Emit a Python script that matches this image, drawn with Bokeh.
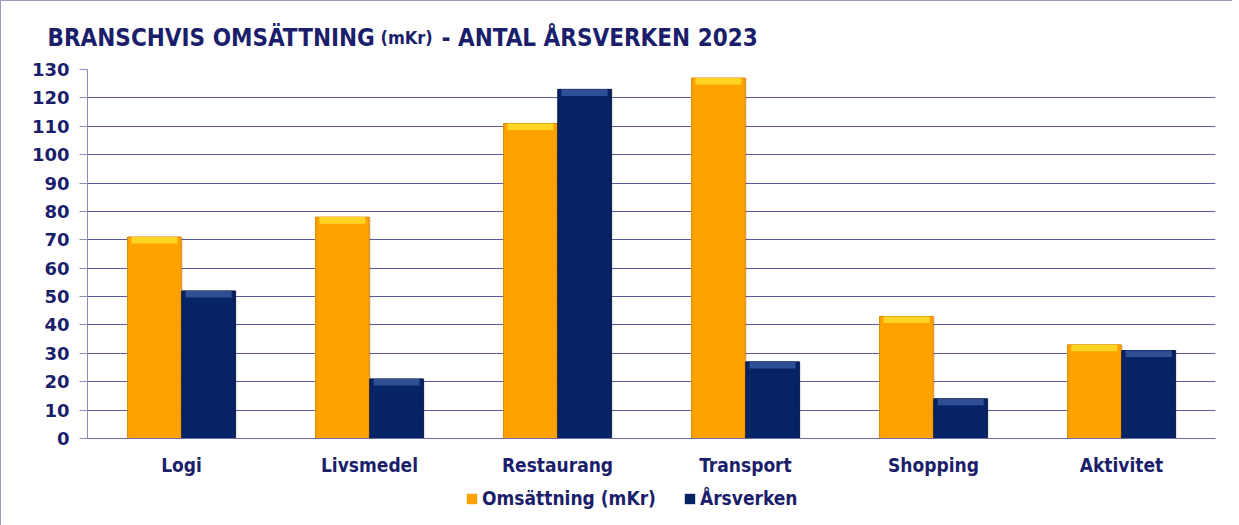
from bokeh.plotting import figure
from bokeh.layouts import column
from bokeh.models import FactorRange, Legend, LegendItem, ColumnDataSource
from bokeh.transform import dodge
from bokeh.embed import file_html
from bokeh.resources import INLINE
from bokeh.core.properties import value

categories = ["Logi", "Livsmedel", "Restaurang", "Transport", "Shopping", "Aktivitet"]
omsattning = [71, 78, 111, 127, 43, 33]
arsverken = [52, 21, 123, 27, 14, 31]
series_names = ["Omsättning (mKr)", "Årsverken"]
title_parts = ["BRANSCHVIS OMSÄTTNING", "(mKr)", "- ANTAL ÅRSVERKEN 2023"]
y_ticks = list(range(0, 131, 10))

FONT = "DejaVu Sans Condensed"
NAVY_TXT = "#1b1f6b"
ORANGE = "#FFA200"
ORANGE_HL = "#FFD422"
ORANGE_EDGE = "#D98600"
NAVY = "#062465"
NAVY_HL = "#2F4F95"
NAVY_EDGE = "#031540"

TOTAL_W = 1231
TITLE_H = 56
LEG_H = 44

# ---- title strip (separate figure so the text is not clipped by the chart frame) ----
t = figure(width=TOTAL_W, height=TITLE_H, x_range=(0, TOTAL_W), y_range=(TITLE_H, 0),
           min_border=0, x_axis_location=None, y_axis_location=None,
           output_backend="svg", toolbar_location=None)
t.grid.visible = False
t.outline_line_color = None
t.text(x=[46], y=[36], text=[title_parts[0]], text_font=value(FONT), text_font_style="bold",
       text_font_size="24px", text_color=NAVY_TXT, text_baseline="alphabetic")
t.text(x=[379], y=[36], text=[title_parts[1]], text_font=value(FONT), text_font_style="bold",
       text_font_size="18px", text_color=NAVY_TXT, text_baseline="alphabetic")
t.text(x=[440], y=[36], text=[title_parts[2]], text_font=value(FONT), text_font_style="bold",
       text_font_size="24px", text_color=NAVY_TXT, text_baseline="alphabetic")

# ---- main chart ----
hl = 2.3  # highlight band height in data units
src = ColumnDataSource(dict(
    cat=categories,
    oms=omsattning,
    ars=arsverken,
    oms_hl=[v - hl for v in omsattning],
    ars_hl=[v - hl for v in arsverken],
))

p = figure(
    x_range=FactorRange(*categories, range_padding=0),
    y_range=(0, 130),
    frame_width=1128, frame_height=369,
    min_border_left=86, min_border_right=17, min_border_top=12, min_border_bottom=44,
    output_backend="svg", toolbar_location=None,
    background_fill_color="white", border_fill_color="white",
)
p.outline_line_color = None

off = 0.144
w = 0.285
# soft shadows
p.vbar(x=dodge("cat", -off + 0.004, range=p.x_range), top="oms", width=w + 0.012, source=src,
       fill_color="#000000", fill_alpha=0.10, line_color=None)
p.vbar(x=dodge("cat", off + 0.004, range=p.x_range), top="ars", width=w + 0.012, source=src,
       fill_color="#000000", fill_alpha=0.10, line_color=None)

p.vbar(x=dodge("cat", -off, range=p.x_range), top="oms", width=w, source=src,
       fill_color=ORANGE, line_color=ORANGE_EDGE, line_width=1)
p.vbar(x=dodge("cat", off, range=p.x_range), top="ars", width=w, source=src,
       fill_color=NAVY, line_color=NAVY_EDGE, line_width=1)
p.vbar(x=dodge("cat", -off, range=p.x_range), top="oms", bottom="oms_hl", width=w * 0.86, source=src,
       fill_color=ORANGE_HL, line_color=None)
p.vbar(x=dodge("cat", off, range=p.x_range), top="ars", bottom="ars_hl", width=w * 0.86, source=src,
       fill_color=NAVY_HL, line_color=None)

# axes
p.yaxis.ticker = y_ticks
p.ygrid.ticker = y_ticks
p.ygrid.grid_line_color = "#3a3f8f"
p.ygrid.grid_line_alpha = 0.85
p.xgrid.grid_line_color = None

p.yaxis.axis_line_color = "#8a8ab8"
p.yaxis.major_tick_line_color = "#8a8ab8"
p.yaxis.major_tick_out = 8
p.yaxis.major_tick_in = 0
p.yaxis.minor_tick_line_color = None
p.yaxis.major_label_standoff = 10
p.yaxis.major_label_text_font = "DejaVu Sans"
p.yaxis.major_label_text_font_style = "bold"
p.yaxis.major_label_text_font_size = "18px"
p.yaxis.major_label_text_color = NAVY_TXT

p.xaxis.axis_line_color = "#6a6aa8"
p.xaxis.major_tick_line_color = None
p.xaxis.major_tick_out = 0
p.xaxis.major_label_standoff = 15
p.xaxis.major_label_text_font = FONT
p.xaxis.major_label_text_font_style = "bold"
p.xaxis.major_label_text_font_size = "19px"
p.xaxis.major_label_text_color = NAVY_TXT

# ---- legend strip ----
b = figure(width=TOTAL_W, height=LEG_H, x_range=FactorRange(*categories), y_range=(0, 1),
           min_border=0, x_axis_location=None, y_axis_location=None,
           output_backend="svg", toolbar_location=None)
b.grid.visible = False
b.outline_line_color = None
# zero-size, borderless bars: they only provide the legend swatches
l_oms = b.vbar(x="cat", top="oms", bottom="oms", width=0, source=src,
               fill_color=ORANGE, line_color=None)
l_ars = b.vbar(x="cat", top="ars", bottom="ars", width=0, source=src,
               fill_color=NAVY, line_color=None)
legend = Legend(items=[LegendItem(label=series_names[0], renderers=[l_oms]),
                       LegendItem(label=series_names[1], renderers=[l_ars])],
                orientation="horizontal", location=(464, 17))
legend.label_text_font = FONT
legend.label_text_font_style = "bold"
legend.label_text_font_size = "19px"
legend.label_text_color = NAVY_TXT
legend.glyph_width = 13
legend.glyph_height = 13
legend.label_standoff = 4
legend.spacing = 27
legend.padding = 0
legend.margin = 0
legend.border_line_color = None
legend.background_fill_alpha = 0
b.add_layout(legend)

layout = column(column(t), p, column(b), spacing=0,
                styles={"border-left": "1px solid #9a9ac4", "border-top": "1px solid #9a9ac4"})
open("out.html", "w").write(file_html(layout, INLINE))
